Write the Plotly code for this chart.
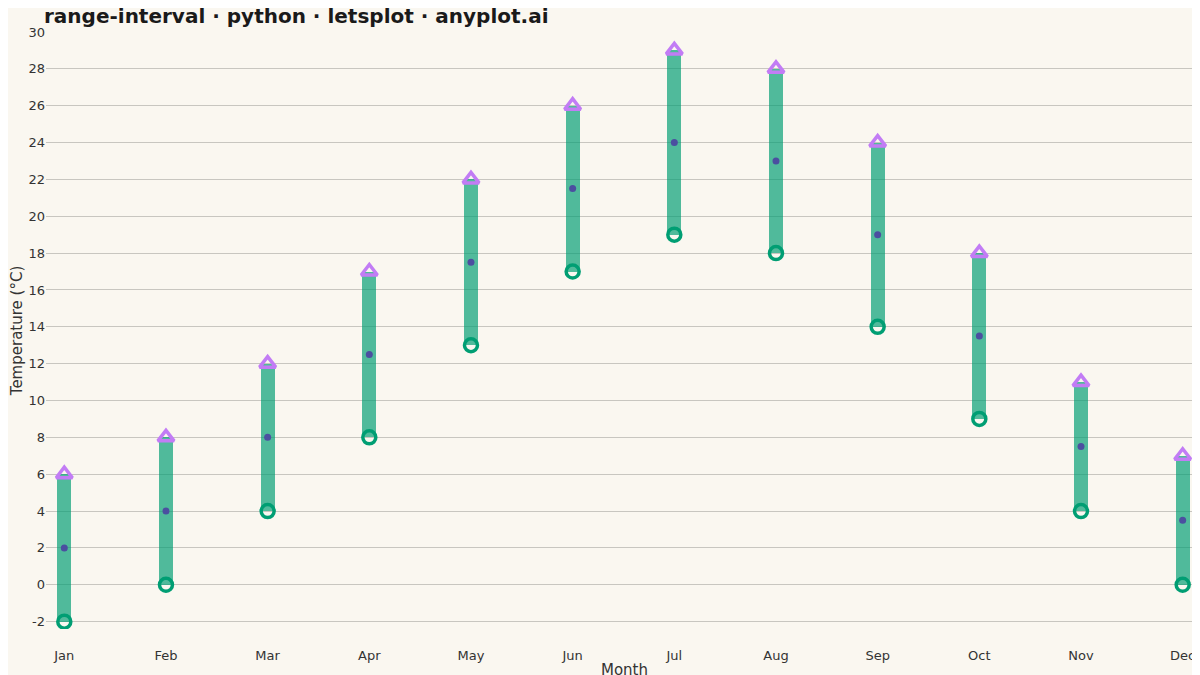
import plotly.graph_objects as go

months = ["Jan","Feb","Mar","Apr","May","Jun","Jul","Aug","Sep","Oct","Nov","Dec"]
t_min = [-2, 0, 4, 8, 13, 17, 19, 18, 14, 9, 4, 0]
t_max = [6, 8, 12, 17, 22, 26, 29, 28, 24, 18, 11, 7]
t_mid = [2, 4, 8, 12.5, 17.5, 21.5, 24, 23, 19, 13.5, 7.5, 3.5]
y_ticks = list(range(-2, 31, 2))
y_labels = [str(v) for v in y_ticks]

fig = go.Figure()
fig.add_trace(go.Bar(x=months, y=[h - l for h, l in zip(t_max, t_min)], base=t_min,
                     width=0.14, marker=dict(color="#009E73", line_width=0), opacity=0.68,
                     showlegend=False))
fig.add_trace(go.Scatter(x=months, y=t_mid, mode="markers",
                         marker=dict(color="#4B4FA0", size=7), showlegend=False))
fig.add_trace(go.Scatter(x=months, y=t_min, mode="markers",
                         marker=dict(symbol="circle-open", color="#009E73", size=13,
                                     line=dict(width=3.5, color="#009E73")), showlegend=False))
fig.add_trace(go.Scatter(x=months, y=t_max, mode="markers",
                         marker=dict(symbol="triangle-up-open", color="#C27CF5", size=14,
                                     line=dict(width=3.5, color="#C27CF5")), showlegend=False))

fig.update_layout(
    width=1200, height=675,
    paper_bgcolor="#FAF7F0", plot_bgcolor="#FAF7F0",
    margin=dict(l=38, r=5, t=24, b=54),
    title=dict(text="<b>range-interval · python · letsplot · anyplot.ai</b>",
               x=0.03, xanchor="left", y=0.999, yanchor="top",
               font=dict(family="DejaVu Sans", size=20, color="#1a1a1a")),
    font=dict(family="DejaVu Sans", color="#333"),
    xaxis=dict(title=dict(text="Month", font=dict(size=15), standoff=2),
               tickfont=dict(size=13), showgrid=False, zeroline=False,
               range=[-0.18, 11.2], ticks="outside", ticklen=14, tickcolor="rgba(0,0,0,0)"),
    yaxis=dict(title=dict(text="Temperature (°C)", font=dict(size=15), standoff=6),
               tickfont=dict(size=13), range=[-2.4, 30], tickvals=y_ticks, ticktext=y_labels,
               gridcolor="#C8C6C0", gridwidth=1, zeroline=False, ticks=""),
    bargap=0,
)
fig.write_html("out.html", config={"displayModeBar": False})
